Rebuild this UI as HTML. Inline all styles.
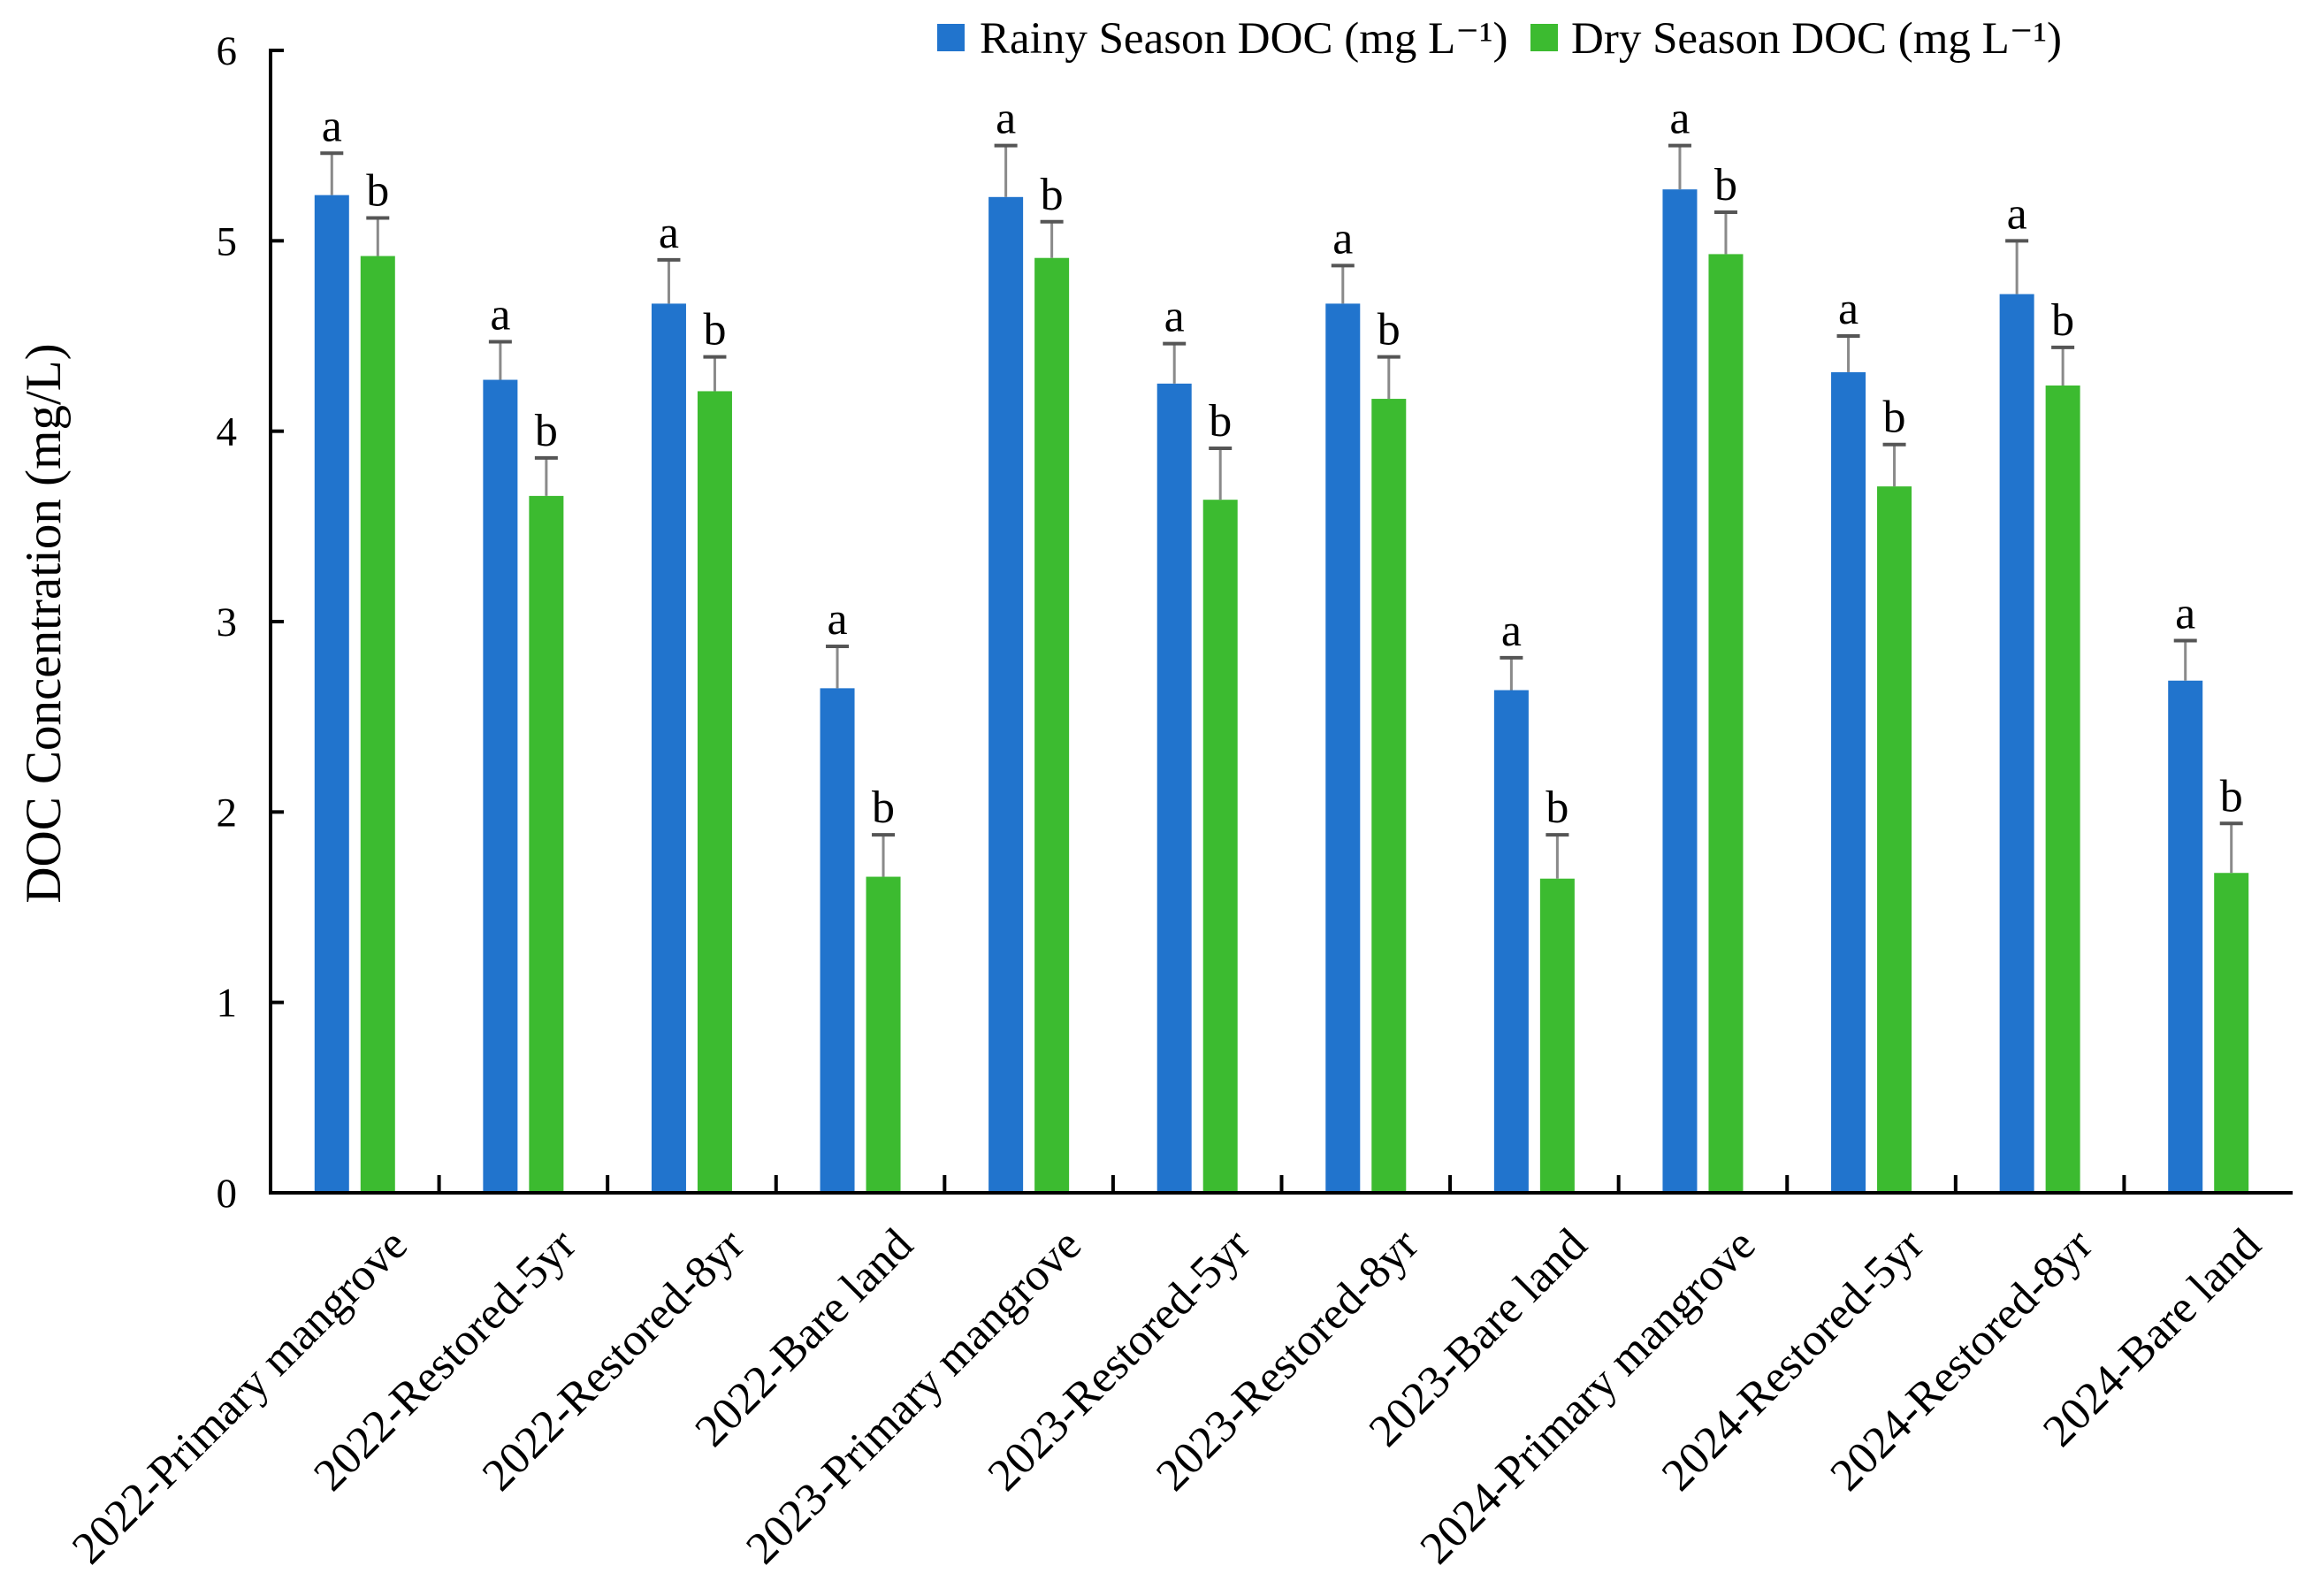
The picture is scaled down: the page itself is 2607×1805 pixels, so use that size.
<!DOCTYPE html>
<html><head><meta charset="utf-8"><style>
html,body{margin:0;padding:0;background:#fff;}
svg{display:block;font-family:"Liberation Serif",serif;}
</style></head><body>
<svg id="chart" width="2607" height="1805" viewBox="0 0 2607 1805" xmlns="http://www.w3.org/2000/svg">
<g id="plot"></g>
</svg>
<script>
const categories = ["2022-Primary mangrove","2022-Restored-5yr","2022-Restored-8yr","2022-Bare land","2023-Primary mangrove","2023-Restored-5yr","2023-Restored-8yr","2023-Bare land","2024-Primary mangrove","2024-Restored-5yr","2024-Restored-8yr","2024-Bare land"];
const rainyValues = [5.24,4.27,4.67,2.65,5.23,4.25,4.67,2.64,5.27,4.31,4.72,2.69];
const rainyErrTop = [5.46,4.47,4.90,2.87,5.50,4.46,4.87,2.81,5.50,4.50,5.00,2.90];
const dryValues = [4.92,3.66,4.21,1.66,4.91,3.64,4.17,1.65,4.93,3.71,4.24,1.68];
const dryErrTop = [5.12,3.86,4.39,1.88,5.10,3.91,4.39,1.88,5.15,3.93,4.44,1.94];
const rainyLetters = ["a","a","a","a","a","a","a","a","a","a","a","a"];
const dryLetters = ["b","b","b","b","b","b","b","b","b","b","b","b"];
const yTicks = [0,1,2,3,4,5,6];

const NS="http://www.w3.org/2000/svg";
const g=document.getElementById('plot');
const X0=306,X1=2593,Y0=1349,Y6=57;
const catW=(X1-X0)/categories.length;
const y=v=>Y0-(Y0-Y6)*v/6;
const cx=i=>X0+catW*(i+0.5);
function mk(tag,attrs,txt){const e=document.createElementNS(NS,tag);for(const k in attrs)e.setAttribute(k,attrs[k]);if(txt!==undefined)e.textContent=txt;g.appendChild(e);return e;}

const series=[
 {vals:rainyValues,err:rainyErrTop,letters:rainyLetters,color:"#2174cd",off:-26,name:"rainy"},
 {vals:dryValues,err:dryErrTop,letters:dryLetters,color:"#3cbb30",off:26,name:"dry"}
];
categories.forEach((c,i)=>{
  series.forEach(s=>{
    const bx=cx(i)+s.off;
    const r=mk('rect',{x:bx-19.5,y:y(s.vals[i]),width:39,height:Y0-y(s.vals[i]),fill:s.color});
    
    
    const l=mk('line',{x1:bx,x2:bx,y1:y(s.vals[i]),y2:y(s.err[i]),stroke:"#8a8a8a","stroke-width":3});
    
    
    const cap=mk('line',{x1:bx-13,x2:bx+13,y1:y(s.err[i]),y2:y(s.err[i]),stroke:"#555","stroke-width":4});
    
    
    const t=mk('text',{x:bx,y:y(s.err[i])-14,"font-size":52,"text-anchor":"middle",fill:"#000"},s.letters[i]);
    
    
  });
  if(i>0){
    const tk=mk('line',{x1:X0+catW*i,x2:X0+catW*i,y1:Y0,y2:Y0-20,stroke:"#000","stroke-width":4});
    
    
  }
  const tx=cx(i)+62, ty=Y0+62;
  const lab=mk('text',{x:tx,y:ty,"font-size":52,"text-anchor":"end",transform:`rotate(-45 ${tx} ${ty})`,fill:"#000"},c);
  
  
});
yTicks.forEach(v=>{
  const tk=mk('line',{x1:X0,x2:X0+15,y1:y(v),y2:y(v),stroke:"#000","stroke-width":4});
  
  
  const t=mk('text',{x:268,y:y(v)+16,"font-size":47,"text-anchor":"end",fill:"#000"},String(v));
  
  
});
const ya=mk('line',{x1:X0,x2:X0,y1:Y6-2,y2:Y0+2,stroke:"#000","stroke-width":4});


const xa=mk('line',{x1:X0-2,x2:X1,y1:Y0,y2:Y0,stroke:"#000","stroke-width":4});


const yt=mk('text',{x:68,y:705,"font-size":57,"text-anchor":"middle",transform:"rotate(-90 68 705)",fill:"#000"},"DOC Concentration (mg/L)");



const lr=mk('rect',{x:1060,y:27,width:31,height:31,fill:"#2174cd"});


const lt=mk('text',{x:1108,y:60,"font-size":51,fill:"#000"},"Rainy Season DOC (mg L\u207B\u00B9)");


const dr=mk('rect',{x:1731,y:27,width:31,height:31,fill:"#3cbb30"});


const dt=mk('text',{x:1777,y:60,"font-size":51,fill:"#000"},"Dry Season DOC (mg L\u207B\u00B9)");


</script>
</body></html>
